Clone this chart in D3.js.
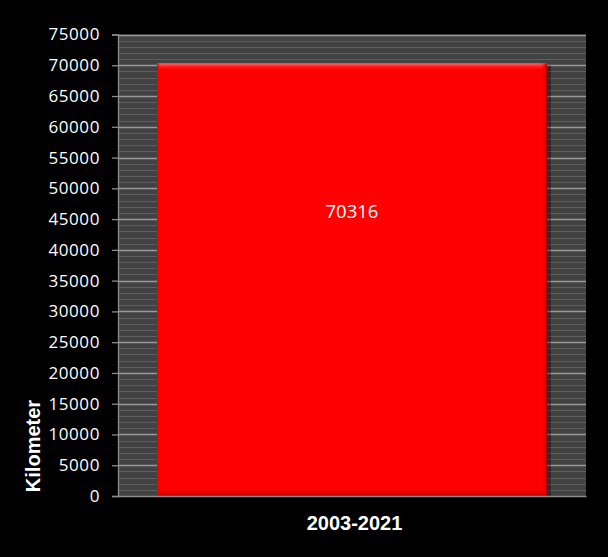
<!DOCTYPE html>
<html>
<head>
<meta charset="utf-8">
<script src="https://cdn.jsdelivr.net/npm/d3@7"></script>
<style>
  html, body { margin: 0; padding: 0; background: #000; }
  svg { display: block; }
</style>
</head>
<body>
<svg id="chart" width="608" height="557"></svg>
<script>
const categories = ["2003-2021"];
const values = [70316];
const yTicks = [0, 5000, 10000, 15000, 20000, 25000, 30000, 35000, 40000, 45000, 50000, 55000, 60000, 65000, 70000, 75000];
const yLabel = "Kilometer";

const svg = d3.select("#chart");
const W = 608, H = 557;
const m = { left: 118, right: 22, top: 34.5, bottom: 61 };
const pw = W - m.left - m.right, ph = H - m.top - m.bottom;

const defs = svg.append("defs");
const gTop = defs.append("linearGradient").attr("id", "bevTop").attr("x1", 0).attr("y1", 0).attr("x2", 0).attr("y2", 1);
gTop.append("stop").attr("offset", "0%").attr("stop-color", "#ff7070");
gTop.append("stop").attr("offset", "100%").attr("stop-color", "#ff0000").attr("stop-opacity", 0);
const gRight = defs.append("linearGradient").attr("id", "bevRight").attr("x1", 0).attr("y1", 0).attr("x2", 1).attr("y2", 0);
gRight.append("stop").attr("offset", "0%").attr("stop-color", "#ff0000").attr("stop-opacity", 0);
gRight.append("stop").attr("offset", "100%").attr("stop-color", "#b00000");
const gBot = defs.append("linearGradient").attr("id", "bevBot").attr("x1", 0).attr("y1", 0).attr("x2", 0).attr("y2", 1);
gBot.append("stop").attr("offset", "0%").attr("stop-color", "#ff0000").attr("stop-opacity", 0);
gBot.append("stop").attr("offset", "100%").attr("stop-color", "#b00000");
const gLeft = defs.append("linearGradient").attr("id", "bevLeft").attr("x1", 0).attr("y1", 0).attr("x2", 1).attr("y2", 0);
gLeft.append("stop").attr("offset", "0%").attr("stop-color", "#e00000");
gLeft.append("stop").attr("offset", "100%").attr("stop-color", "#ff0000").attr("stop-opacity", 0);

const x = d3.scaleBand().domain(categories).range([m.left, m.left + pw]).paddingInner(0).paddingOuter(0.1);
const y = d3.scaleLinear().domain([0, 75000]).range([m.top + ph, m.top]);

// plot background
svg.append("rect").attr("x", m.left).attr("y", m.top).attr("width", pw).attr("height", ph).attr("fill", "#424242");

// minor stripes
const minor = d3.range(1000, 75000, 1000).filter(v => v % 5000 !== 0);
svg.append("g").selectAll("line").data(minor).join("line")
  .attr("x1", m.left).attr("x2", m.left + pw)
  .attr("y1", d => Math.round(y(d)) + 0.5).attr("y2", d => Math.round(y(d)) + 0.5)
  .attr("stroke", "#5f5f5f").attr("stroke-width", 1);

// major gridlines
svg.append("g").selectAll("line").data(yTicks.filter(d => d > 0)).join("line")
  .attr("x1", m.left).attr("x2", m.left + pw)
  .attr("y1", d => Math.round(y(d)) + 0.5).attr("y2", d => Math.round(y(d)) + 0.5)
  .attr("stroke", "#9a9a9a").attr("stroke-width", 1.3);

// bars
const bars = svg.append("g");
categories.forEach((c, i) => {
  const bx = x(c), bw = x.bandwidth(), by = y(values[i]), bh = y(0) - y(values[i]);
  // shadow
  bars.append("rect").attr("x", bx + 2).attr("y", by + 2).attr("width", bw + 2).attr("height", bh - 2).attr("fill", "#000").attr("opacity", 0.35);
  bars.append("rect").attr("x", bx).attr("y", by).attr("width", bw).attr("height", bh).attr("fill", "#ff0000");
  bars.append("rect").attr("x", bx).attr("y", by).attr("width", bw).attr("height", 7).attr("fill", "url(#bevTop)");
  bars.append("rect").attr("x", bx + bw - 6).attr("y", by).attr("width", 6).attr("height", bh).attr("fill", "url(#bevRight)");
  bars.append("rect").attr("x", bx).attr("y", by + bh - 7).attr("width", bw).attr("height", 7).attr("fill", "url(#bevBot)");
  bars.append("rect").attr("x", bx).attr("y", by).attr("width", 3).attr("height", bh).attr("fill", "url(#bevLeft)");
  bars.append("text").attr("x", bx + bw / 2).attr("y", by + bh * 0.358)
    .attr("text-anchor", "middle").attr("fill", "#fff")
    .attr("font-family", "'Open Sans', sans-serif").attr("font-size", 18.5)
    .text(values[i]);
});

// y axis
const yAxis = d3.axisLeft(y).tickValues(yTicks).tickSize(6).tickPadding(12).tickFormat(d3.format("d"));
const ya = svg.append("g").attr("transform", `translate(${m.left},0)`).call(yAxis);
ya.select(".domain").attr("stroke", "#8c8c8c").attr("stroke-width", 1.3);
ya.selectAll(".tick line").attr("stroke", "#8c8c8c").attr("stroke-width", 1.3);
ya.selectAll(".tick text").attr("fill", "#fff").attr("font-family", "'Open Sans', sans-serif").attr("font-size", 17).attr("letter-spacing", "0.6px");

// x axis
const xAxis = d3.axisBottom(x).tickSize(0).tickPadding(20);
const xa = svg.append("g").attr("transform", `translate(0,${m.top + ph})`).call(xAxis);
xa.select(".domain").attr("stroke", "#8c8c8c").attr("stroke-width", 1.3);
xa.selectAll(".tick text").attr("fill", "#fff").attr("font-family", "'Liberation Sans', Arial, sans-serif")
  .attr("font-weight", "bold").attr("font-size", 20).attr("dx", 2.5);

// y label
svg.append("text").attr("transform", "translate(40,446) rotate(-90)")
  .attr("text-anchor", "middle").attr("fill", "#fff")
  .attr("font-family", "'Liberation Sans', Arial, sans-serif").attr("font-weight", "bold").attr("font-size", 20)
  .text(yLabel);
</script>
</body>
</html>
